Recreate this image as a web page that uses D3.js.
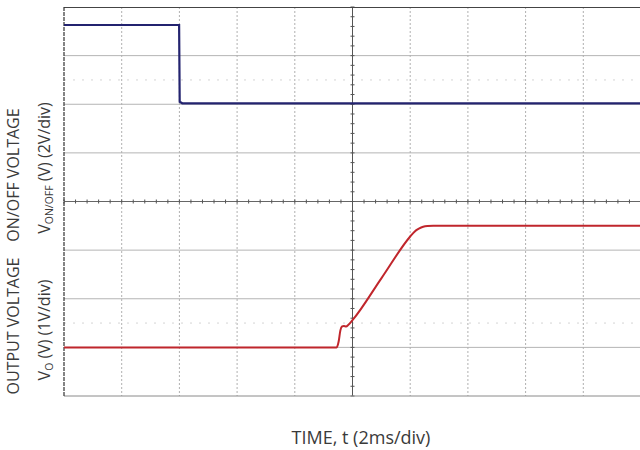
<!DOCTYPE html>
<html><head><meta charset="utf-8">
<script src="https://cdn.jsdelivr.net/npm/d3@7"></script>
<style>body{margin:0;background:#fff}svg{display:block}text{font-family:"Open Sans","Noto Sans",sans-serif;fill:#3a3a3a}</style>
</head><body><svg id="c" width="640" height="450"></svg>
<script>
// Time in ms (trigger at 0), 2 ms/div
const timeTicks = [-10,-8,-6,-4,-2,0,2,4,6,8,10];
// ON/OFF channel (V), 2 V/div
const onoffTime = [-10, -6.01, -5.99, -5.9, 10];
const onoffV    = [3.26, 3.26, 0.1, 0.04, 0.04];
// Output channel (V), 1 V/div
const outTime = [-10, -0.55, -0.48, -0.42, -0.36, -0.3, -0.22, -0.15, 0, 1, 2.0, 2.15, 2.3, 2.45, 2.6, 2.8, 10];
const outV    = [0, 0, 0.12, 0.35, 0.43, 0.44, 0.43, 0.46, 0.56, 1.42, 2.28, 2.38, 2.44, 2.48, 2.495, 2.5, 2.5];
const voltTicks = [-1,0,1,2,3,4,5,6,7];
const xLabel = "TIME, t (2ms/div)";

const svg = d3.select("#c");
const L = 64, R = 641, T = 7, B = 396;
const x = d3.scaleLinear().domain([-10,10]).range([L,R]);
const yOut = d3.scaleLinear().domain([-1,7]).range([B,T]);
const yOn = d3.scaleLinear().domain([-12,4]).range([B,T]);

svg.append("defs").append("clipPath").attr("id","clip")
  .append("rect").attr("x",L).attr("y",T).attr("width",R-L).attr("height",B-T);

const g = svg.append("g");
g.selectAll(".hg").data(voltTicks.filter(v=>v!==3 && v!==-1 && v!==7)).enter().append("line")
  .attr("x1",L).attr("x2",R).attr("y1",d=>yOut(d)).attr("y2",d=>yOut(d))
  .attr("stroke","#b4b4b4").attr("stroke-width",1);
g.selectAll(".vg").data(timeTicks.filter(t=>t!==0 && t!==-10)).enter().append("line")
  .attr("y1",T).attr("y2",B).attr("x1",d=>x(d)).attr("x2",d=>x(d))
  .attr("stroke","#b0b0b0").attr("stroke-width",1).attr("stroke-dasharray","2,2");
[yOn(1), yOut(0.5)].forEach(yy=>{
  g.append("line").attr("x1",L).attr("x2",R).attr("y1",yy).attr("y2",yy)
   .attr("stroke","#d4d4d4").attr("stroke-width",1).attr("stroke-dasharray","2,7");
});
const cy = yOut(3), cx = x(0);
g.append("line").attr("x1",L).attr("x2",R).attr("y1",cy).attr("y2",cy).attr("stroke","#666").attr("stroke-width",1);
g.append("line").attr("y1",T).attr("y2",B).attr("x1",cx).attr("x2",cx).attr("stroke","#555").attr("stroke-width",1);
const minorT = d3.range(-10, 10.001, 0.4);
g.selectAll(".mt").data(minorT).enter().append("line")
  .attr("x1",d=>x(d)).attr("x2",d=>x(d)).attr("y1",cy-2).attr("y2",cy+2)
  .attr("stroke","#555").attr("stroke-width",1);
const minorV = d3.range(-1, 7.001, 0.2);
g.selectAll(".mv").data(minorV).enter().append("line")
  .attr("y1",d=>yOut(d)).attr("y2",d=>yOut(d)).attr("x1",cx-2).attr("x2",cx+2)
  .attr("stroke","#555").attr("stroke-width",1);
g.append("line").attr("x1",L).attr("x2",R).attr("y1",T+0.5).attr("y2",T+0.5).attr("stroke","#444").attr("stroke-width",1.2);
g.append("line").attr("x1",L).attr("x2",R).attr("y1",B).attr("y2",B).attr("stroke","#8a8a8a").attr("stroke-width",1);
g.append("line").attr("x1",L).attr("x2",L).attr("y1",T).attr("y2",B).attr("stroke","#333").attr("stroke-width",1.2).attr("stroke-dasharray","4,1");

const plot = svg.append("g").attr("clip-path","url(#clip)");
const onData = onoffTime.map((t,i)=>[t,onoffV[i]]);
const outData = outTime.map((t,i)=>[t,outV[i]]);
plot.append("path").datum(onData)
  .attr("d", d3.line().x(d=>x(d[0])).y(d=>yOn(d[1])))
  .attr("fill","none").attr("stroke","#23236f").attr("stroke-width",2.2);
plot.append("path").datum(outData)
  .attr("d", d3.line().x(d=>x(d[0])).y(d=>yOut(d[1])).curve(d3.curveMonotoneX))
  .attr("fill","none").attr("stroke","#c0262c").attr("stroke-width",2);

svg.append("text").attr("x",361).attr("y",444).attr("text-anchor","middle").attr("font-size",18).text(xLabel);
function vlab(xp, yp, parts){
  const t = svg.append("text").attr("transform",`translate(${xp},${yp}) rotate(-90)`).attr("text-anchor","middle").attr("font-size",16);
  parts.forEach(p=>{ const s=t.append("tspan").text(p.t); if(p.sub) s.attr("font-size",10.5).attr("dy",3); else if(p.after) s.attr("dy",-3); });
}
vlab(19, 175, [{t:"ON/OFF VOLTAGE"}]);
vlab(19, 326, [{t:"OUTPUT VOLTAGE"}]);
vlab(50, 168, [{t:"V"},{t:"ON/OFF",sub:true},{t:" (V) (2V/div)",after:true}]);
vlab(50, 330, [{t:"V"},{t:"O",sub:true},{t:" (V) (1V/div)",after:true}]);
</script></body></html>
